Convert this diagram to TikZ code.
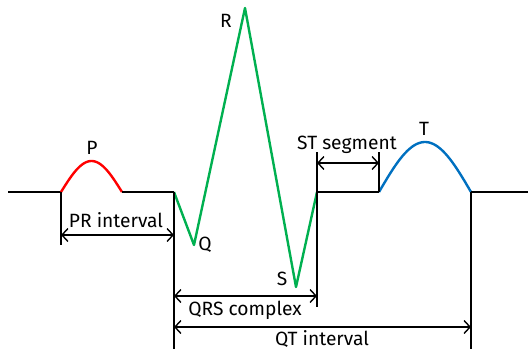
\documentclass[tikz,border=0pt]{standalone}
\usepackage{fontspec}
\setmainfont{Fira Sans}
\usetikzlibrary{arrows.meta}
\definecolor{pwave}{RGB}{255,0,0}
\definecolor{qrswave}{RGB}{0,176,80}
\definecolor{twave}{RGB}{0,112,192}

\begin{document}
\begin{tikzpicture}[x=1pt,y=-1pt,
  trace/.style={line width=2.4pt,line join=round},
  guide/.style={line width=1.2pt},
  span/.style={line width=1.4pt,{Straight Barb[length=6pt,width=13pt]}-{Straight Barb[length=6pt,width=13pt]}},
  every node/.style={font=\fontsize{19.2}{21}\selectfont,inner sep=0pt,anchor=base}]
  \useasboundingbox (0,0) rectangle (530,351);
  % points on the trace
  \coordinate (start) at (8,192);
  \coordinate (pstart) at (61,192);
  \coordinate (pend) at (122,192);
  \coordinate (qstart) at (174,192);
  \coordinate (q) at (194,245);
  \coordinate (r) at (245,8);
  \coordinate (s) at (296,287);
  \coordinate (send) at (317,192);
  \coordinate (tstart) at (379,192);
  \coordinate (tend) at (471,192);
  \coordinate (stop) at (528,192);
  % the trace
  \draw[trace] (start) -- (pstart);
  \draw[trace,pwave] plot[domain=0:180,samples=40,smooth] ({61+\x/180*61},{192-31*sin(\x)});
  \draw[trace] (pend) -- (qstart);
  \draw[trace,qrswave] (qstart) -- (q) -- (r) -- (s) -- (send);
  \draw[trace] (send) -- (tstart);
  \draw[trace,twave] plot[domain=0:180,samples=40,smooth] ({379+\x/180*92},{192-50*sin(\x)});
  \draw[trace] (tend) -- (stop);
  % guide lines
  \draw[guide] (pstart) -- ++(0,53) coordinate (prleft);
  \draw[guide] (qstart) -- ++(0,157) coordinate (qtleft);
  \draw[guide] (send) ++(0,-40) coordinate (sttop) -- ++(0,155) coordinate (qrsright);
  \draw[guide] (tstart) -- ++(0,-40) coordinate (sttopr);
  \draw[guide] (tend) -- ++(0,157) coordinate (qtright);
  % spans
  \coordinate (pra) at (61,235);
  \coordinate (prb) at (174,235);
  \coordinate (qrsa) at (174,296);
  \coordinate (qrsb) at (317,296);
  \coordinate (qta) at (174,327);
  \coordinate (qtb) at (471,327);
  \coordinate (sta) at (317,163);
  \coordinate (stb) at (379,163);
  \draw[span] (pra) -- (prb);
  \draw[span] (qrsa) -- (qrsb);
  \draw[span] (qta) -- (qtb);
  \draw[span] (sta) -- (stb);
  % labels
  \node (plabel) at (92,154) {P};
  \node (rlabel) at (226,27) {R};
  \node (qlabel) at (205,250) {Q};
  \node (slabel) at (282,285) {S};
  \node (tlabel) at (424,135) {T};
  \node (prlabel) at (116,227) {PR interval};
  \node (qrslabel) at (245,315) {QRS complex};
  \node (qtlabel) at (322,345) {QT interval};
  \node (stlabel) at (347,149) {ST segment};
\end{tikzpicture}
\end{document}
